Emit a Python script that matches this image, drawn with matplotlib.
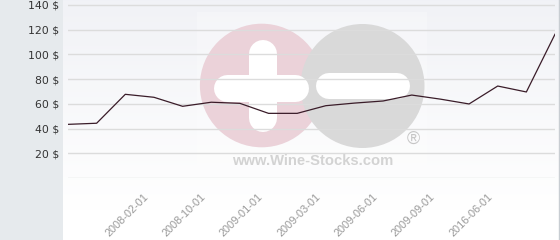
import numpy as np
import matplotlib
matplotlib.use('Agg')
import matplotlib.pyplot as plt
import matplotlib.transforms as mtransforms
from matplotlib.patches import Circle, Rectangle

# price per point (18 points)
prices = [43.4, 44.3, 67.7, 65.3, 58.0, 61.3, 60.4, 52.3, 52.3, 58.5,
          60.6, 62.3, 67.1, 63.8, 59.9, 74.4, 69.6, 116.3]

# only every other point carries a date label
label_idx = [3, 5, 7, 9, 11, 13, 15]
date_labels = ['2008-02-01', '2008-10-01', '2009-01-01', '2009-03-01',
               '2009-06-01', '2009-09-01', '2016-06-01']

y_ticks = [0, 20, 40, 60, 80, 100, 120, 140]
y_labels = ['', '20 $', '40 $', '60 $', '80 $', '100 $', '120 $', '140 $']

W, H = 560, 240
fig = plt.figure(figsize=(W / 100, H / 100), dpi=100)
fig.patch.set_facecolor('#e6eaed')

# background layer in pixel coordinates: gradient + watermark
bg = fig.add_axes([0, 0, 1, 1], zorder=0)
bg.set_xlim(0, W)
bg.set_ylim(H, 0)
bg.axis('off')

top = np.array([0.945, 0.949, 0.965])
t = np.clip(np.linspace(0, 1, 240) / (210 / 240), 0, 1)[:, None, None]
grad = top * (1 - t) + np.ones(3) * t
bg.imshow(grad, extent=[63, 559, 240, 0], aspect='auto', zorder=0)
bg.plot([559, 559], [0, 240], color='#c8cdd2', lw=1, zorder=1)

# faint box behind the logo
bg.add_patch(Rectangle((197, 12), 230, 161, color='white', alpha=0.25, lw=0, zorder=1))

bg.add_patch(Circle((261.7, 85.5), 61.8, color='#ebd2d9', lw=0, zorder=2))
bg.add_patch(Circle((362.5, 86), 62, color='#d9d9d9', lw=0, zorder=3))

bar_w = 27 * 72 / 100  # pixels -> points
bg.plot([262.5, 262.5], [54, 118], color='white', lw=28 * 72 / 100,
        solid_capstyle='round', zorder=4)
bg.plot([227, 294.5], [87.5, 87.5], color='white', lw=bar_w,
        solid_capstyle='round', zorder=4)
bg.plot([328.5, 397], [86, 86], color='white', lw=26 * 72 / 100,
        solid_capstyle='round', zorder=4)

bg.text(413.3, 139.5, '®', color='#c6c6c6', fontsize=13,
        family='Liberation Sans', ha='center', va='center', zorder=5)
bg.text(312.5, 161, 'www.Wine-Stocks.com', color='#d3d3d3', fontsize=10.6,
        family='Liberation Sans', weight='bold', ha='center', va='center', zorder=5)

# main chart
ax = fig.add_axes([68 / W, (H - 178) / H, (555 - 68) / W, 178 / H], zorder=1)
ax.patch.set_alpha(0)
for s in ax.spines.values():
    s.set_visible(False)

ax.set_xlim(0, len(prices) - 1)
ax.set_ylim(0, 144)

for v in y_ticks:
    ax.axhline(v, color='#dcdcdc', lw=1, zorder=1)

ax.plot(range(len(prices)), prices, color='#3a1c29', lw=0.9, zorder=3)

ax.set_yticks(y_ticks)
ax.set_yticklabels(y_labels)
ax.tick_params(axis='y', length=0, pad=6.5, labelsize=7.8, labelcolor='#333333')

# date labels: drawn as text so they can be nudged like the original
ax.set_xticks([])
shift = mtransforms.ScaledTranslation(-5 / 100, -19 / 100, fig.dpi_scale_trans)
for i, lab in zip(label_idx, date_labels):
    ax.text(i, 0, lab, transform=ax.get_xaxis_transform() + shift,
            rotation=45, ha='right', va='baseline', rotation_mode='anchor',
            family='Liberation Sans', fontsize=7.9, color='#999999', clip_on=False)

fig.savefig('out.png', dpi=100, facecolor=fig.get_facecolor())
